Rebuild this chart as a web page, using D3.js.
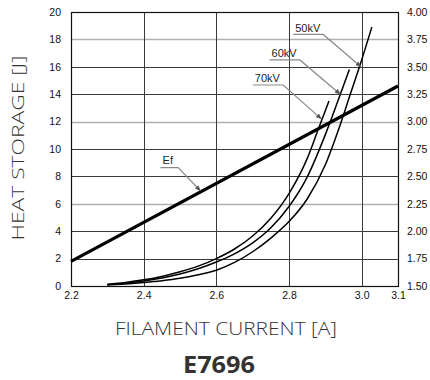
<!DOCTYPE html>
<html>
<head>
<meta charset="utf-8">
<script src="https://cdn.jsdelivr.net/npm/d3@7"></script>
<style>
  html, body { margin: 0; padding: 0; background: #fff; }
  svg { display: block; }
</style>
</head>
<body>
<svg id="chart" width="430" height="380"></svg>
<script>
// ---- data ----
const xTicks = [2.2, 2.4, 2.6, 2.8, 3.0, 3.1];
const yLeftTicks = [0, 2, 4, 6, 8, 10, 12, 14, 16, 18, 20];
const yRightTicks = [1.50, 1.75, 2.00, 2.25, 2.50, 2.75, 3.00, 3.25, 3.50, 3.75, 4.00];
const greyGridValues = [6, 12, 18];

// heat storage curves [filament current A, heat storage J]
const kv70 = [[2.30,0.12],[2.35,0.26],[2.40,0.45],[2.45,0.70],[2.50,1.04],[2.55,1.45],[2.60,2.0],[2.65,2.7],[2.70,3.65],[2.75,4.95],[2.80,6.75],[2.85,9.3],[2.88,11.4],[2.91,13.5]];
const kv60 = [[2.30,0.10],[2.35,0.21],[2.40,0.37],[2.45,0.59],[2.50,0.88],[2.55,1.26],[2.60,1.75],[2.65,2.35],[2.70,3.15],[2.75,4.25],[2.80,5.8],[2.85,7.95],[2.90,11.05],[2.94,13.9],[2.966,15.8]];
const kv50 = [[2.30,0.07],[2.35,0.15],[2.40,0.25],[2.45,0.38],[2.50,0.56],[2.55,0.82],[2.60,1.15],[2.65,1.72],[2.70,2.5],[2.75,3.5],[2.80,4.7],[2.85,6.35],[2.90,8.85],[2.94,11.7],[2.97,14.1],[3.00,16.5],[3.028,18.9]];
// Ef (right axis units)
const ef = [[2.2,1.725],[3.1,3.325]];

const xTitle = "FILAMENT CURRENT [A]";
const yTitle = "HEAT STORAGE [J]";
const chartTitle = "E7696";

// annotation anchors in data units (left axis): text start, underline end, arrow tip
const annotations = [
  {label:"50kV", tx:2.817, ty:18.55, ux:2.894, uy:18.36, ax:2.998, ay:16.0},
  {label:"60kV", tx:2.752, ty:16.72, ux:2.830, uy:16.50, ax:2.941, ay:14.0},
  {label:"70kV", tx:2.706, ty:14.90, ux:2.784, uy:14.67, ax:2.889, ay:12.2},
  {label:"Ef",   tx:2.452, ty:8.90,  ux:2.495, uy:8.64,  ax:2.556, ay:6.95}
];

// ---- layout ----
const L = 71, R = 398, T = 12, B = 286;
const svg = d3.select("#chart");
const x = d3.scaleLinear().domain([2.2, 3.1]).range([L, R]);
const y = d3.scaleLinear().domain([0, 20]).range([B, T]);
const yR = d3.scaleLinear().domain([1.5, 4.0]).range([B, T]);

const defs = svg.append("defs");
defs.append("marker").attr("id","arr").attr("viewBox","0 0 10 10")
  .attr("refX",9).attr("refY",5).attr("markerWidth",5).attr("markerHeight",5)
  .attr("orient","auto")
  .append("path").attr("d","M0,1 L10,5 L0,9 z").attr("fill","#555");

// grid
const g = svg.append("g");
g.selectAll("line.h").data(yLeftTicks.slice(1, -1)).join("line")
  .attr("x1", L).attr("x2", R)
  .attr("y1", d => Math.round(y(d)) + 0.5).attr("y2", d => Math.round(y(d)) + 0.5)
  .attr("stroke", d => greyGridValues.includes(d) ? "#b0b0b0" : "#3a3a3a")
  .attr("stroke-width", d => greyGridValues.includes(d) ? 1.3 : 1);
g.selectAll("line.v").data(xTicks.slice(1, -1)).join("line")
  .attr("y1", T).attr("y2", B)
  .attr("x1", d => Math.round(x(d)) + 0.5).attr("x2", d => Math.round(x(d)) + 0.5)
  .attr("stroke", "#3a3a3a").attr("stroke-width", 1);

// frame
svg.append("rect").attr("x", L + 0.5).attr("y", T + 0.5)
  .attr("width", R - L).attr("height", B - T)
  .attr("fill", "none").attr("stroke", "#111").attr("stroke-width", 1.2);

// axes
const tickFont = "Liberation Sans, Arial, sans-serif";
const axL = svg.append("g").attr("transform", `translate(${L},0)`)
  .call(d3.axisLeft(y).tickValues(yLeftTicks).tickSize(0).tickPadding(10).tickFormat(d3.format("d")));
const axR = svg.append("g").attr("transform", `translate(${R},0)`)
  .call(d3.axisRight(yR).tickValues(yRightTicks).tickSize(0).tickPadding(9).tickFormat(d3.format(".2f")));
const axB = svg.append("g").attr("transform", `translate(0,${B})`)
  .call(d3.axisBottom(x).tickValues(xTicks).tickSize(0).tickPadding(6).tickFormat(d3.format(".1f")));
[axL, axR, axB].forEach(a => {
  a.select(".domain").remove();
  a.selectAll("text").attr("font-family", tickFont).attr("font-size", 10.5).attr("fill", "#111");
});

// curves
const line = d3.line().x(d => x(d[0])).y(d => y(d[1])).curve(d3.curveMonotoneX);
const lineR = d3.line().x(d => x(d[0])).y(d => yR(d[1]));
[kv70, kv60, kv50].forEach(s => {
  svg.append("path").attr("d", line(s)).attr("fill", "none")
    .attr("stroke", "#000").attr("stroke-width", 1.5);
});
svg.append("path").attr("d", lineR(ef)).attr("fill", "none")
  .attr("stroke", "#000").attr("stroke-width", 3.2);

// annotations
const an = svg.append("g");
annotations.forEach(a => {
  an.append("path")
    .attr("d", `M${x(a.tx) - 2},${y(a.uy)} L${x(a.ux)},${y(a.uy)} L${x(a.ax)},${y(a.ay)}`)
    .attr("fill", "none").attr("stroke", "#8a8a8a").attr("stroke-width", 1.2)
    .attr("marker-end", "url(#arr)");
  an.append("text").attr("x", x(a.tx)).attr("y", y(a.ty))
    .attr("font-family", tickFont).attr("font-size", 11).attr("fill", "#222")
    .text(a.label);
});

// titles
svg.append("text").attr("transform", `translate(24,148) rotate(-90)`)
  .attr("text-anchor", "middle").attr("font-family", "Open Sans, sans-serif")
  .attr("font-weight", 300).attr("font-size", 17).attr("fill", "#333")
  .attr("textLength", 185).attr("lengthAdjust", "spacingAndGlyphs").text(yTitle);
svg.append("text").attr("x", 226).attr("y", 335).attr("text-anchor", "middle")
  .attr("font-family", "Open Sans, sans-serif").attr("font-weight", 300)
  .attr("font-size", 18).attr("fill", "#333")
  .attr("textLength", 222).attr("lengthAdjust", "spacingAndGlyphs").text(xTitle);
svg.append("text").attr("x", 219).attr("y", 373).attr("text-anchor", "middle")
  .attr("font-family", "Open Sans, sans-serif").attr("font-weight", 700)
  .attr("font-size", 23).attr("fill", "#333")
  .attr("textLength", 72).attr("lengthAdjust", "spacingAndGlyphs").text(chartTitle);
</script>
</body>
</html>
